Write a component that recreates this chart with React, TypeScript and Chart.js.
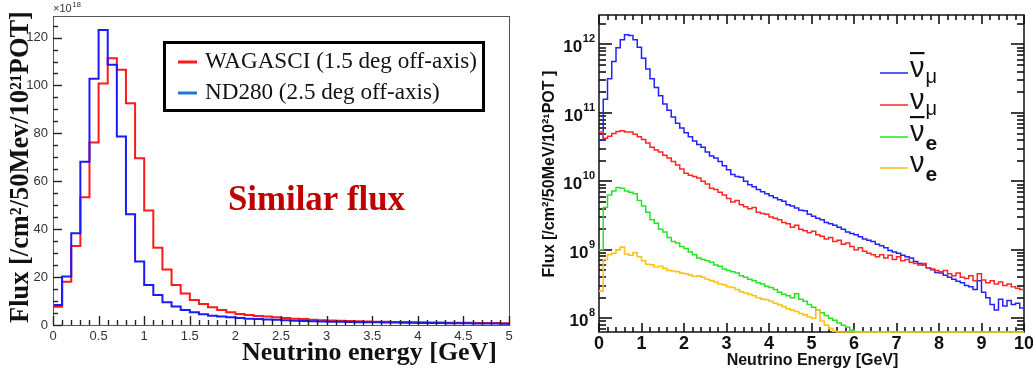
import React, { useEffect, useRef } from "react";
import { Chart, registerables } from "chart.js";

Chart.register(...registerables);

// ---------------- Left panel data (flux x10^18, 0.1 GeV bins from 0 to 5 GeV) ----------------
const LEFT_BIN_WIDTH = 0.1;
const LEFT_X_MAX = 5;
const LEFT_Y_MAX = 129;
const wagasciFlux = [
  7.6, 18.1, 33, 53.3, 76.2, 100.8, 111.4, 106.6, 92.6, 69.6,
  47.8, 32.2, 23.2, 16.7, 13.2, 10.4, 8.8, 7.4, 6.3, 5.3,
  4.6, 4.2, 3.8, 3.5, 3.2, 2.9, 2.6, 2.5, 2.2, 2.0,
  1.9, 1.8, 1.7, 1.6, 1.5, 1.4, 1.35, 1.3, 1.25, 1.2,
  1.1, 1.0, 1.0, 0.95, 0.9, 0.9, 0.85, 0.8, 0.8, 0.75,
];
const nd280Flux = [
  8.4, 20.2, 38.3, 68.2, 102.8, 123.2, 108.6, 78.7, 46.2, 26.5,
  16.7, 12.5, 9.5, 7.7, 6.3, 5.3, 4.5, 3.9, 3.5, 3.2,
  2.9, 2.6, 2.5, 2.3, 2.2, 2.0, 1.8, 1.7, 1.6, 1.5,
  1.4, 1.35, 1.3, 1.2, 1.15, 1.1, 1.05, 1.0, 0.95, 0.9,
  0.85, 0.8, 0.8, 0.75, 0.7, 0.7, 0.65, 0.6, 0.6, 0.55,
];
const leftXTickValues = [0, 0.5, 1, 1.5, 2, 2.5, 3, 3.5, 4, 4.5, 5];
const leftYTickValues = [0, 20, 40, 60, 80, 100, 120];
const leftSeriesLabels = ["WAGASCI (1.5 deg off-axis)", "ND280 (2.5 deg off-axis)"];

// ---------------- Right panel data (log10 flux, 0.1 GeV bins from 0 to 10 GeV) ----------------
const RIGHT_BIN_WIDTH = 0.1;
const RIGHT_X_MAX = 10;
const RIGHT_LOG_MIN = 7.8;
const RIGHT_LOG_MAX = 12.43;
const antiNuMuLog10 = [
  10.6, 11.2, 11.5, 11.75, 11.95, 12.07, 12.14, 12.13, 12.07, 11.96,
  11.8, 11.64, 11.5, 11.37, 11.25, 11.13, 11.04, 10.94, 10.85, 10.78,
  10.71, 10.65, 10.59, 10.54, 10.5, 10.43, 10.37, 10.34, 10.29, 10.23,
  10.17, 10.1, 10.07, 10.06, 10.0, 9.95, 9.92, 9.88, 9.85, 9.82,
  9.79, 9.76, 9.73, 9.71, 9.66, 9.64, 9.61, 9.58, 9.57, 9.52,
  9.49, 9.46, 9.44, 9.4, 9.38, 9.36, 9.33, 9.3, 9.26, 9.24,
  9.22, 9.19, 9.16, 9.14, 9.12, 9.08, 9.06, 9.03, 8.99, 8.97,
  8.95, 8.92, 8.9, 8.88, 8.83, 8.8, 8.78, 8.74, 8.71, 8.67,
  8.66, 8.63, 8.6, 8.57, 8.54, 8.52, 8.48, 8.46, 8.42, 8.55,
  8.38, 8.3, 8.2, 8.12, 8.28, 8.18, 8.26, 8.2, 8.22, 8.15,
];
const nuMuLog10 = [
  10.72, 10.63, 10.66, 10.7, 10.73, 10.74, 10.72, 10.72, 10.69, 10.65,
  10.61, 10.56, 10.5, 10.46, 10.43, 10.38, 10.34, 10.29, 10.24, 10.18,
  10.12, 10.09, 10.07, 10.05, 10.0, 9.96, 9.9, 9.88, 9.84, 9.8,
  9.75, 9.7, 9.72, 9.66, 9.63, 9.6, 9.62, 9.55, 9.53, 9.52,
  9.48, 9.46, 9.44, 9.4, 9.38, 9.33, 9.36, 9.3, 9.28, 9.25,
  9.27, 9.22, 9.2, 9.16, 9.18, 9.12, 9.14, 9.08, 9.1, 9.05,
  9.0, 9.03, 8.98, 8.95, 8.93, 8.9, 8.93, 8.88, 8.92, 8.86,
  8.9, 8.84, 8.86, 8.82, 8.8, 8.78, 8.8, 8.74, 8.72, 8.7,
  8.68, 8.7, 8.65, 8.62, 8.66, 8.6, 8.58, 8.62, 8.55, 8.65,
  8.56, 8.52, 8.55, 8.5, 8.53, 8.48, 8.5, 8.46, 8.44, 8.42,
];
const antiNuELog10 = [
  9.0, 9.62, 9.8, 9.86, 9.91, 9.9, 9.86, 9.84, 9.82, 9.72,
  9.64, 9.55, 9.44, 9.39, 9.3, 9.26, 9.18, 9.12, 9.1, 9.05,
  9.02, 8.97, 8.93, 8.88, 8.86, 8.84, 8.82, 8.78, 8.76, 8.72,
  8.7, 8.68, 8.66, 8.62, 8.6, 8.57, 8.55, 8.52, 8.5, 8.47,
  8.45, 8.42, 8.38, 8.35, 8.33, 8.3, 8.36, 8.28, 8.25, 8.2,
  8.16, 8.12, 8.08, 8.04, 8.0, 7.97, 7.93, 7.9, 7.87, 7.83,
  7.8, 7.8, 7.8, 7.8, 7.8, 7.8, 7.8, 7.8, 7.8, 7.8,
  7.8, 7.8, 7.8, 7.8, 7.8, 7.8, 7.8, 7.8, 7.8, 7.8,
  7.8, 7.8, 7.8, 7.8, 7.8, 7.8, 7.8, 7.8, 7.8, 7.8,
  7.8, 7.8, 7.8, 7.8, 7.8, 7.8, 7.8, 7.8, 7.8, 7.8,
];
const nuELog10 = [
  8.4, 8.86, 8.93, 8.95, 9.0, 9.04, 8.94, 8.92, 8.96, 8.9,
  8.84, 8.79, 8.78, 8.75, 8.76, 8.73, 8.7, 8.69, 8.68, 8.66,
  8.65, 8.63, 8.61, 8.62, 8.6, 8.57, 8.55, 8.53, 8.5, 8.49,
  8.46, 8.45, 8.42, 8.39, 8.37, 8.35, 8.33, 8.3, 8.28, 8.27,
  8.25, 8.22, 8.2, 8.17, 8.14, 8.12, 8.1, 8.07, 8.05, 8.02,
  8.0, 8.12, 7.96, 7.9, 7.85, 7.81, 7.8, 7.8, 7.8, 7.8,
  7.8, 7.8, 7.8, 7.8, 7.8, 7.8, 7.8, 7.8, 7.8, 7.8,
  7.8, 7.8, 7.8, 7.8, 7.8, 7.8, 7.8, 7.8, 7.8, 7.8,
  7.8, 7.8, 7.8, 7.8, 7.8, 7.8, 7.8, 7.8, 7.8, 7.8,
  7.8, 7.8, 7.8, 7.8, 7.8, 7.8, 7.8, 7.8, 7.8, 7.8,
];
const rightXTickValues = [0, 1, 2, 3, 4, 5, 6, 7, 8, 9, 10];
const rightYDecades = [8, 9, 10, 11, 12];
const rightSeriesLabels = ["ν̄μ", "νμ", "ν̄e", "νe"];

// ---------------- colours ----------------
const LEFT_RED = "#ff1a1a";
const LEFT_BLUE = "#1a1aff";
const LEFT_LEGEND_BLUE = "#1f78d0";
const R_BLUE = "#2323ff";
const R_RED = "#ff2626";
const R_GREEN = "#22e622";
const R_YELLOW = "#ffc21a";

const SERIF = '"Liberation Serif", "Times New Roman", serif';
const SANS = '"Liberation Sans", Arial, sans-serif';

function histPoints(values: number[], width: number, map: (v: number) => number) {
  const pts = values.map((v, i) => ({ x: Math.round(i * width * 1000) / 1000, y: map(v) }));
  pts.push({ x: Math.round(values.length * width * 1000) / 1000, y: map(values[values.length - 1]) });
  return pts;
}

function fitFont(ctx: CanvasRenderingContext2D, text: string, tpl: (s: number) => string, width: number) {
  ctx.font = tpl(100);
  const w = ctx.measureText(text).width;
  const size = (100 * width) / w;
  ctx.font = tpl(size);
  return size;
}

function drawSeg(ctx: CanvasRenderingContext2D, x0: number, y0: number, x1: number, y1: number) {
  ctx.beginPath();
  ctx.moveTo(x0, y0);
  ctx.lineTo(x1, y1);
  ctx.stroke();
}

const leftDecor = {
  id: "leftDecor",
  afterDraw(chart: any) {
    const { ctx, chartArea: a } = chart;
    const xs = chart.scales.x;
    const ys = chart.scales.y;
    ctx.save();
    ctx.setLineDash([]);
    // frame
    ctx.strokeStyle = "#555";
    ctx.lineWidth = 1;
    ctx.strokeRect(Math.round(a.left) + 0.5, Math.round(a.top) + 0.5, Math.round(a.right - a.left), Math.round(a.bottom - a.top));
    // ticks
    ctx.strokeStyle = "#222";
    ctx.lineWidth = 1.4;
    const nX = Math.round(LEFT_X_MAX / 0.1);
    for (let i = 0; i <= nX; i++) {
      const px = Math.round(xs.getPixelForValue(i * 0.1)) + 0.5;
      drawSeg(ctx, px, a.bottom, px, a.bottom - (i % 5 === 0 ? 9 : 5));
    }
    for (let v = 0; v <= LEFT_Y_MAX; v += 5) {
      const py = Math.round(ys.getPixelForValue(v)) + 0.5;
      drawSeg(ctx, a.left, py, a.left + (v % 20 === 0 ? 9 : 5), py);
    }
    // tick labels
    ctx.fillStyle = "#333";
    ctx.font = `13px ${SANS}`;
    ctx.textAlign = "right";
    ctx.textBaseline = "middle";
    leftYTickValues.forEach((v) => ctx.fillText(String(v), a.left - 5, ys.getPixelForValue(v)));
    ctx.textAlign = "center";
    leftXTickValues.forEach((v) => ctx.fillText(String(v), xs.getPixelForValue(v), a.bottom + 11));
    // exponent
    ctx.textAlign = "left";
    ctx.font = `11px ${SANS}`;
    ctx.fillText("×10", a.left, 9);
    const wx = ctx.measureText("×10").width;
    ctx.font = `8px ${SANS}`;
    ctx.fillText("18", a.left + wx + 0.5, 5);
    // y title
    ctx.fillStyle = "#111";
    ctx.save();
    ctx.translate(21, 167);
    ctx.rotate(-Math.PI / 2);
    ctx.textAlign = "center";
    ctx.textBaseline = "middle";
    fitFont(ctx, "Flux [/cm²/50Mev/10²¹POT]", (s) => `bold ${s}px ${SERIF}`, 312);
    ctx.fillText("Flux [/cm²/50Mev/10²¹POT]", 0, 0);
    ctx.restore();
    // x title
    ctx.textAlign = "center";
    ctx.textBaseline = "middle";
    fitFont(ctx, "Neutrino energy [GeV]", (s) => `bold ${s}px ${SERIF}`, 255);
    ctx.fillText("Neutrino energy [GeV]", 369.5, 353);
    // annotation
    ctx.fillStyle = "#c00000";
    ctx.textAlign = "left";
    fitFont(ctx, "Similar flux", (s) => `bold ${s}px ${SERIF}`, 177);
    ctx.fillText("Similar flux", 228, 201);
    // legend box
    ctx.strokeStyle = "#000";
    ctx.lineWidth = 3;
    ctx.strokeRect(164.5, 42.5, 319, 68);
    const size = fitFont(ctx, leftSeriesLabels[0], (s) => `${s}px ${SERIF}`, 272);
    ctx.font = `${size}px ${SERIF}`;
    ctx.fillStyle = "#111";
    ctx.fillText(leftSeriesLabels[0], 205, 62);
    ctx.fillText(leftSeriesLabels[1], 205, 93);
    ctx.lineWidth = 3;
    ctx.strokeStyle = LEFT_RED;
    drawSeg(ctx, 178, 62, 197, 62);
    ctx.strokeStyle = LEFT_LEGEND_BLUE;
    drawSeg(ctx, 178, 93, 197, 93);
    ctx.restore();
  },
};

const rightDecor = {
  id: "rightDecor",
  // frame and ticks go under the histograms so the lines resting on the floor stay visible
  beforeDatasetsDraw(chart: any) {
    const { ctx, chartArea: a } = chart;
    const xs = chart.scales.x;
    const ys = chart.scales.y;
    ctx.save();
    ctx.setLineDash([]);
    ctx.strokeStyle = "#111";
    ctx.lineWidth = 1.5;
    ctx.strokeRect(a.left, a.top, a.right - a.left, a.bottom - a.top);
    ctx.lineWidth = 1.6;
    ctx.strokeStyle = "#111";
    const nX = Math.round(RIGHT_X_MAX / 0.2);
    for (let i = 0; i <= nX; i++) {
      const px = Math.round(xs.getPixelForValue(i * 0.2));
      const len = i % 5 === 0 ? 9 : 5;
      drawSeg(ctx, px, a.bottom, px, a.bottom - len);
      drawSeg(ctx, px, a.top, px, a.top + len);
    }
    for (let e = 7; e <= 12; e++) {
      for (let m = 1; m <= 9; m++) {
        const lv = e + Math.log10(m);
        if (lv < RIGHT_LOG_MIN || lv > RIGHT_LOG_MAX) continue;
        const py = Math.round(ys.getPixelForValue(m * Math.pow(10, e)));
        const len = m === 1 ? 13 : 7;
        drawSeg(ctx, a.left, py, a.left + len, py);
        drawSeg(ctx, a.right, py, a.right - len, py);
      }
    }
    ctx.restore();
  },
  afterDraw(chart: any) {
    const { ctx, chartArea: a } = chart;
    const xs = chart.scales.x;
    const ys = chart.scales.y;
    ctx.save();
    // labels
    ctx.fillStyle = "#111";
    ctx.font = `bold 18px ${SANS}`;
    ctx.textAlign = "center";
    ctx.textBaseline = "middle";
    rightXTickValues.forEach((v) => ctx.fillText(String(v), xs.getPixelForValue(v), a.bottom + 12));
    rightYDecades.forEach((e) => {
      const py = ys.getPixelForValue(Math.pow(10, e));
      ctx.font = `bold 11px ${SANS}`;
      const sw = ctx.measureText(String(e)).width;
      ctx.textAlign = "right";
      ctx.fillText(String(e), a.left - 4, py - 5);
      ctx.font = `bold 17px ${SANS}`;
      ctx.fillText("10", a.left - 4 - sw - 0.5, py + 3);
    });
    // titles
    ctx.textAlign = "center";
    fitFont(ctx, "Neutrino Energy [GeV]", (s) => `bold ${s}px ${SANS}`, 172);
    ctx.fillText("Neutrino Energy [GeV]", 282.5, 361);
    ctx.save();
    ctx.translate(20, 174);
    ctx.rotate(-Math.PI / 2);
    fitFont(ctx, "Flux [/cm²/50MeV/10²¹POT ]", (s) => `bold ${s}px ${SANS}`, 207);
    ctx.fillText("Flux [/cm²/50MeV/10²¹POT ]", 0, 0);
    ctx.restore();
    // legend
    const entries = [
      { color: R_BLUE, bar: true, sub: "μ", y: 73 },
      { color: R_RED, bar: false, sub: "μ", y: 105 },
      { color: R_GREEN, bar: true, sub: "e", y: 137 },
      { color: R_YELLOW, bar: false, sub: "e", y: 168 },
    ];
    ctx.textAlign = "left";
    ctx.textBaseline = "alphabetic";
    entries.forEach((en) => {
      ctx.strokeStyle = en.color;
      ctx.lineWidth = 1.5;
      drawSeg(ctx, 350, en.y, 378, en.y);
      ctx.fillStyle = "#111";
      ctx.font = `29px ${SANS}`;
      ctx.fillText("ν", 380, en.y + 4);
      const nw = ctx.measureText("ν").width;
      if (en.bar) {
        ctx.fillRect(380, en.y - 21, nw, 2.2);
      }
      if (en.sub === "μ") {
        ctx.font = `20px ${SANS}`;
        ctx.fillText("μ", 380 + nw + 1, en.y + 10);
      } else {
        ctx.font = `bold 21px ${SANS}`;
        ctx.fillText("e", 380 + nw + 1, en.y + 13);
      }
    });
    ctx.restore();
  },
};

export default function App() {
  const leftRef = useRef<HTMLCanvasElement | null>(null);
  const rightRef = useRef<HTMLCanvasElement | null>(null);

  useEffect(() => {
    const ident = (v: number) => v;
    const pow = (v: number) => Math.pow(10, v);
    const left = new Chart(leftRef.current as HTMLCanvasElement, {
      type: "line",
      data: {
        datasets: [
          {
            label: leftSeriesLabels[0],
            data: histPoints(wagasciFlux, LEFT_BIN_WIDTH, ident),
            borderColor: LEFT_RED,
            borderWidth: 2,
            stepped: true,
            pointRadius: 0,
            fill: false,
            order: 1,
          },
          {
            label: leftSeriesLabels[1],
            data: histPoints(nd280Flux, LEFT_BIN_WIDTH, ident),
            borderColor: LEFT_BLUE,
            borderWidth: 2,
            stepped: true,
            pointRadius: 0,
            fill: false,
            order: 0,
          },
        ],
      },
      options: {
        responsive: false,
        animation: false,
        events: [],
        layout: { padding: { left: 53, right: 21, top: 16, bottom: 53 } },
        scales: {
          x: { type: "linear", min: 0, max: LEFT_X_MAX, display: false },
          y: { type: "linear", min: 0, max: LEFT_Y_MAX, display: false },
        },
        plugins: { legend: { display: false }, tooltip: { enabled: false } },
      },
      plugins: [leftDecor],
    } as any);

    const mk = (label: string, vals: number[], color: string, order: number, bw: number) => ({
      label,
      data: histPoints(vals, RIGHT_BIN_WIDTH, pow),
      borderColor: color,
      borderWidth: bw,
      stepped: true,
      pointRadius: 0,
      fill: false,
      clip: 3,
      order,
    });
    const right = new Chart(rightRef.current as HTMLCanvasElement, {
      type: "line",
      data: {
        datasets: [
          mk(rightSeriesLabels[0], antiNuMuLog10, R_BLUE, 3, 1.5),
          mk(rightSeriesLabels[1], nuMuLog10, R_RED, 2, 1.5),
          mk(rightSeriesLabels[2], antiNuELog10, R_GREEN, 1, 1.5),
          mk(rightSeriesLabels[3], nuELog10, R_YELLOW, 0, 1.6),
        ],
      },
      options: {
        responsive: false,
        animation: false,
        events: [],
        layout: { padding: { left: 69, right: 9, top: 15, bottom: 46 } },
        scales: {
          x: { type: "linear", min: 0, max: RIGHT_X_MAX, display: false },
          y: { type: "logarithmic", min: pow(RIGHT_LOG_MIN), max: pow(RIGHT_LOG_MAX), display: false },
        },
        plugins: { legend: { display: false }, tooltip: { enabled: false } },
      },
      plugins: [rightDecor],
    } as any);

    return () => {
      left.destroy();
      right.destroy();
    };
  }, []);

  return (
    <div style={{ position: "fixed", left: 0, top: 0, width: 1033, height: 378, background: "#fff", overflow: "hidden" }}>
      <canvas ref={leftRef} width={530} height={378} style={{ position: "absolute", left: 0, top: 0, width: 530, height: 378 }} />
      <canvas ref={rightRef} width={503} height={378} style={{ position: "absolute", left: 530, top: 0, width: 503, height: 378 }} />
    </div>
  );
}
